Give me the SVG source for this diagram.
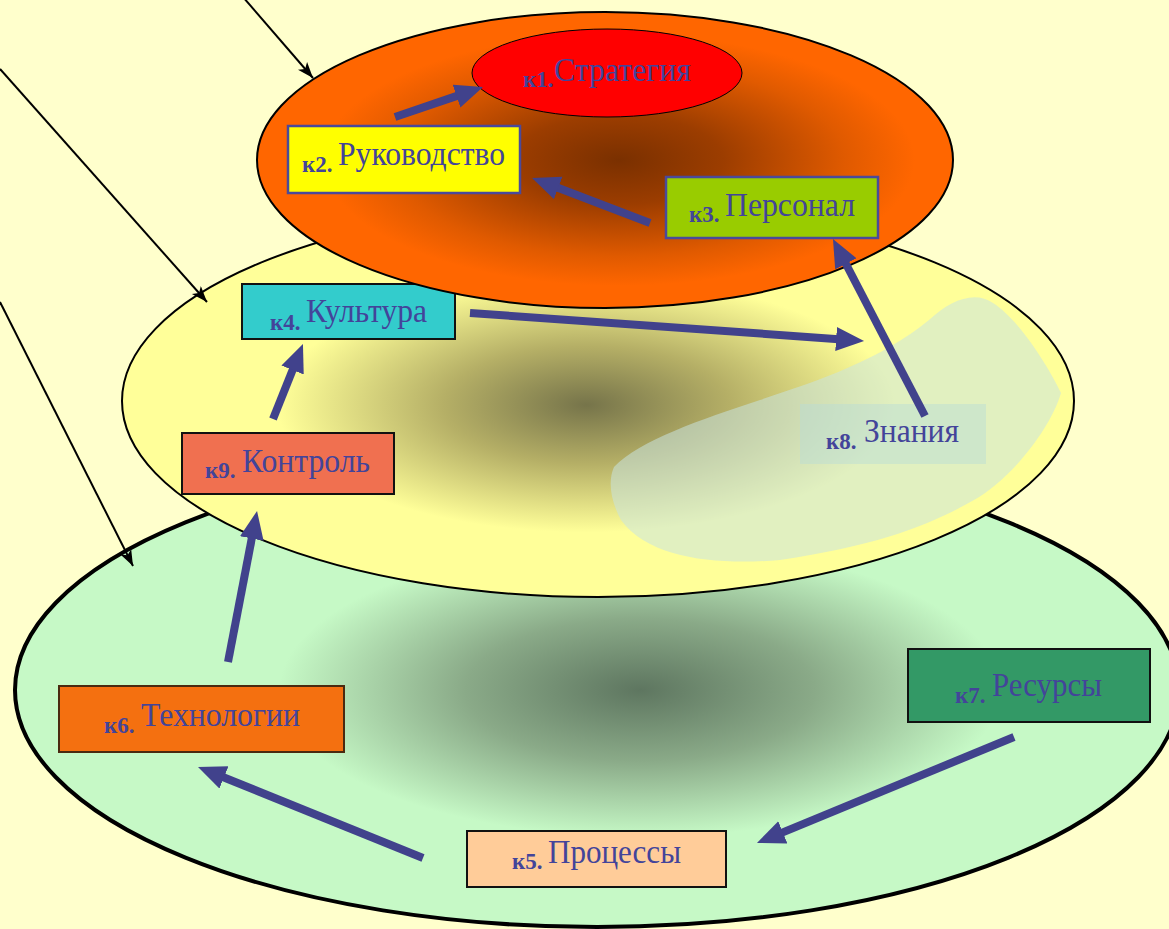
<svg xmlns="http://www.w3.org/2000/svg" width="1169" height="929" viewBox="0 0 1169 929">
<defs>
<style>
.k{font-family:"Liberation Serif","Times New Roman",serif;font-weight:bold;font-size:23px;fill:#43449A}
.t{font-family:"Liberation Serif","Times New Roman",serif;font-size:33px;fill:#43449A}
.box{stroke:#111;stroke-width:2}
.bbox{stroke:#4A4A9A;stroke-width:2.5}
.blue{stroke:#41428C;stroke-width:8;fill:none;marker-end:url(#bh)}
.thin{stroke:#000;stroke-width:2;fill:none;marker-end:url(#th)}
</style>
<radialGradient id="gGreen" cx="0.537" cy="0.5" r="0.5">
<stop offset="0" stop-color="#5E7660"/>
<stop offset="0.3" stop-color="#8AAA88"/>
<stop offset="0.62" stop-color="#C6F9C6"/>
<stop offset="1" stop-color="#C6F9C6"/>
</radialGradient>
<radialGradient id="gYellow" cx="0.488" cy="0.51" r="0.5">
<stop offset="0" stop-color="#76744A"/>
<stop offset="0.3" stop-color="#B5AF66"/>
<stop offset="0.65" stop-color="#FFFF99"/>
<stop offset="1" stop-color="#FFFF99"/>
</radialGradient>
<radialGradient id="gOrange" cx="0.52" cy="0.5" r="0.5">
<stop offset="0" stop-color="#7A3000"/>
<stop offset="0.3" stop-color="#9C3D00"/>
<stop offset="0.65" stop-color="#E05A00"/>
<stop offset="0.85" stop-color="#FF6600"/>
<stop offset="1" stop-color="#FF6600"/>
</radialGradient>
<marker id="bh" markerUnits="userSpaceOnUse" markerWidth="30" markerHeight="26" refX="6" refY="12" orient="auto">
<path d="M0,0 L28,12 L0,24 Z" fill="#41428C"/>
</marker>
<marker id="th" markerUnits="userSpaceOnUse" markerWidth="18" markerHeight="14" refX="16" refY="6" orient="auto">
<path d="M0,0 L16,6 L0,12 L4,6 Z" fill="#000"/>
</marker>
</defs>
<rect width="1169" height="929" fill="#FFFFCC"/>
<g id="layer-green">
<ellipse cx="597" cy="690" rx="582" ry="237" fill="url(#gGreen)" stroke="#000" stroke-width="4"/>
</g>
<g id="layer-yellow">
<ellipse cx="598" cy="401" rx="476" ry="196" fill="url(#gYellow)" stroke="#000" stroke-width="2"/>
<path d="M614,467 C640,440 700,420 760,400 C820,380 880,360 929,320 C950,300 975,290 993,303 C1020,320 1050,370 1061,393 C1050,430 1010,480 974,500 C930,525 880,545 780,560 C720,565 650,560 621,520 C610,500 608,480 614,467 Z" fill="#C9E4E0" fill-opacity="0.55"/>
</g>
<g id="k4">
<rect x="242" y="284" width="213" height="55" fill="#33CCCC" class="box"/>
<text><tspan class="k" x="270" y="330">к4. </tspan><tspan class="t" x="306" y="322" textLength="121" lengthAdjust="spacingAndGlyphs">Культура</tspan></text>
</g>
<g id="layer-orange">
<ellipse cx="605" cy="160" rx="348" ry="148" fill="url(#gOrange)" stroke="#000" stroke-width="2"/>
</g>
<g id="k1">
<ellipse cx="607" cy="73" rx="135" ry="44" fill="#FF0000" stroke="#000" stroke-width="1"/>
<text><tspan class="k" x="523" y="87">к1.</tspan><tspan class="t" x="554" y="81" textLength="137" lengthAdjust="spacingAndGlyphs">Стратегия</tspan></text>
</g>
<g id="k2">
<rect x="288" y="126" width="232" height="67" fill="#FFFF00" class="bbox"/>
<text><tspan class="k" x="302" y="172">к2. </tspan><tspan class="t" x="338" y="165" textLength="167" lengthAdjust="spacingAndGlyphs">Руководство</tspan></text>
</g>
<g id="k3">
<rect x="666" y="177" width="212" height="61" fill="#99CC00" class="bbox"/>
<text><tspan class="k" x="689" y="222">к3. </tspan><tspan class="t" x="725" y="216" textLength="130" lengthAdjust="spacingAndGlyphs">Персонал</tspan></text>
</g>
<g id="k9">
<rect x="182" y="433" width="212" height="61" fill="#F07050" class="box"/>
<text><tspan class="k" x="205" y="478">к9. </tspan><tspan class="t" x="242" y="472" textLength="128" lengthAdjust="spacingAndGlyphs">Контроль</tspan></text>
</g>
<g id="k8">
<rect x="800" y="404" width="186" height="60" fill="#B8DCD8" fill-opacity="0.45"/>
<text><tspan class="k" x="826" y="449">к8. </tspan><tspan class="t" x="864" y="442" textLength="95" lengthAdjust="spacingAndGlyphs">Знания</tspan></text>
</g>
<g id="k6">
<rect x="59" y="686" width="285" height="66" fill="#F47010" stroke="#4A2A10" stroke-width="2"/>
<text><tspan class="k" x="104" y="733">к6. </tspan><tspan class="t" x="141" y="726" textLength="159" lengthAdjust="spacingAndGlyphs">Технологии</tspan></text>
</g>
<g id="k5">
<rect x="467" y="831" width="259" height="56" fill="#FFCC99" class="box"/>
<text><tspan class="k" x="512" y="869">к5. </tspan><tspan class="t" x="548" y="863" textLength="133" lengthAdjust="spacingAndGlyphs">Процессы</tspan></text>
</g>
<g id="k7">
<rect x="908" y="649" width="242" height="73" fill="#339966" class="box"/>
<text><tspan class="k" x="955" y="703">к7. </tspan><tspan class="t" x="992" y="696" textLength="110" lengthAdjust="spacingAndGlyphs">Ресурсы</tspan></text>
</g>
<g id="connectors">
<line class="blue" x1="395" y1="117" x2="462.2" y2="94.1"/>
<line class="blue" x1="650" y1="223" x2="552.6" y2="185.8"/>
<line class="blue" x1="925" y1="416" x2="843.1" y2="258.5"/>
<line class="blue" x1="470" y1="313" x2="842.1" y2="339.4"/>
<line class="blue" x1="273" y1="419" x2="294.8" y2="364.4"/>
<line class="blue" x1="228" y1="662" x2="252.9" y2="532.6"/>
<line class="blue" x1="423" y1="858" x2="218.4" y2="775.2"/>
<line class="blue" x1="1014" y1="737" x2="777.3" y2="834.6"/>
<line class="thin" x1="243" y1="-3" x2="313" y2="78"/>
<line class="thin" x1="0" y1="69" x2="207" y2="302"/>
<line class="thin" x1="0" y1="302" x2="133" y2="566"/>
</g>
</svg>
